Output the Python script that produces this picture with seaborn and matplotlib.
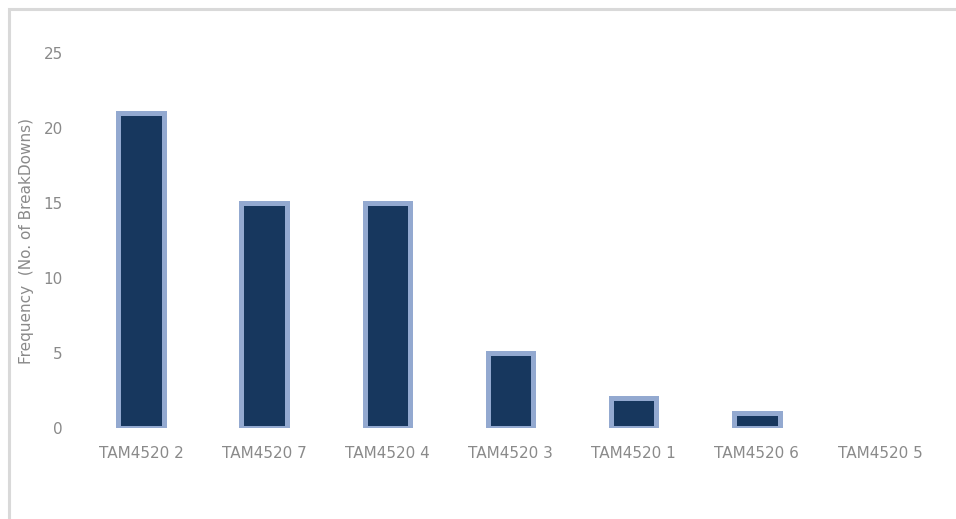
import pandas as pd
import matplotlib.pyplot as plt
import seaborn as sns
from matplotlib.patches import Rectangle

machines = ['TAM4520 2', 'TAM4520 7', 'TAM4520 4', 'TAM4520 3',
            'TAM4520 1', 'TAM4520 6', 'TAM4520 5']
breakdowns = [21, 15, 15, 5, 2, 1, 0]

df = pd.DataFrame({'machine': machines, 'breakdowns': breakdowns})

sns.set_style('white')
plt.rcParams['font.family'] = ['DejaVu Sans']

fig = plt.figure(figsize=(9.56, 5.19), dpi=100)
ax = fig.add_axes([0.0832, 0.1753, 0.9016, 0.7226])

sns.barplot(
    data=df,
    x='machine',
    y='breakdowns',
    color='#17375e',
    edgecolor='#93a9d0',
    linewidth=3.6,
    width=0.37,
    saturation=1,
    ax=ax
)

# a bar of height 0 should not leave an outline behind
for p in ax.patches:
    if p.get_height() == 0:
        p.set_linewidth(0)

ax.set_ylim(0, 25)
ax.set_yticks([0, 5, 10, 15, 20, 25])
ax.set_xlabel('')
ax.set_ylabel('Frequency  (No. of BreakDowns)', fontsize=11, color='#8a8a8a')
ax.yaxis.set_label_coords(-0.053, 0.5)
ax.tick_params(axis='y', length=0, pad=12, labelsize=11, labelcolor='#8a8a8a')
ax.tick_params(axis='x', length=0, pad=13, labelsize=11, labelcolor='#8a8a8a')
sns.despine(ax=ax, left=True, bottom=True)

# light grey frame around the chart area
fig.patches.append(Rectangle((9 / 956, -0.1), 1.2, 1.1 - 9 / 519,
                             transform=fig.transFigure, fill=False,
                             edgecolor='#d9d9d9', linewidth=2.2))

fig.savefig('out.png', dpi=100)
